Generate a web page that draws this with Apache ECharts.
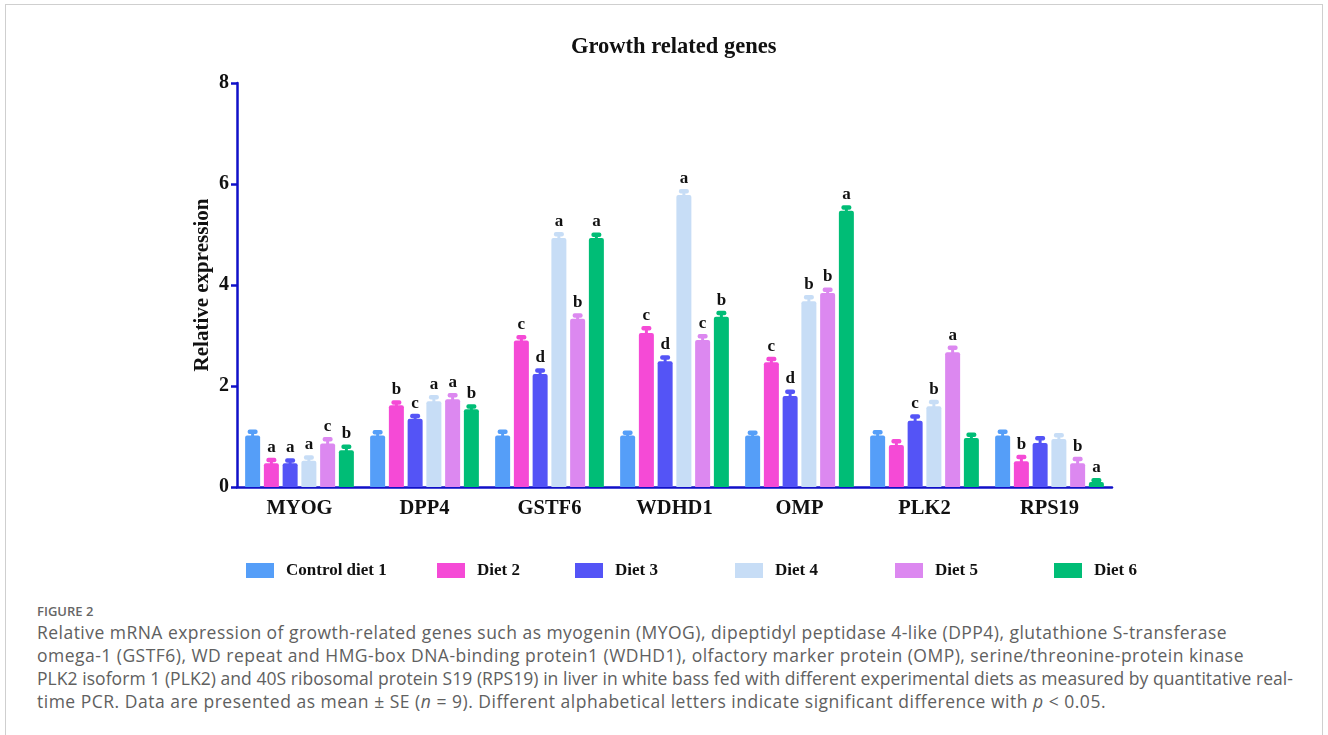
<!DOCTYPE html>
<html>
<head>
<meta charset="utf-8">
<script src="https://cdn.jsdelivr.net/npm/echarts@6/dist/echarts.min.js"></script>
<style>
  html, body { margin: 0; padding: 0; background: #fff; }
  body { width: 1328px; height: 735px; position: relative; overflow: hidden; }
  #frame { position: absolute; left: 5px; top: 4px; width: 1318px; height: 800px;
           border: 1px solid #cfcfcf; box-sizing: border-box; }
  #chart { position: absolute; left: 0; top: 0; width: 1328px; height: 600px; }
  #caption { position: absolute; left: 37px; top: 601px; color: #606060;
             font-family: 'Open Sans', 'Noto Sans', sans-serif; }
  #caption .fig { font-size: 13px; font-weight: 600; color: #666; line-height: 20px; }
  #caption .line { font-size: 17.5px; line-height: 23px; white-space: nowrap; }
  #caption .line span { display: inline-block; }
</style>
</head>
<body>
<div id="frame"></div>
<div id="chart"></div>
<div id="caption">
  <div class="fig">FIGURE 2</div>
  <div class="line" data-w="1190"><span>Relative mRNA expression of growth-related genes such as myogenin (MYOG), dipeptidyl peptidase 4-like (DPP4), glutathione S-transferase</span></div>
  <div class="line" data-w="1207"><span>omega-1 (GSTF6), WD repeat and HMG-box DNA-binding protein1 (WDHD1), olfactory marker protein (OMP), serine/threonine-protein kinase</span></div>
  <div class="line" data-w="1256"><span>PLK2 isoform 1 (PLK2) and 40S ribosomal protein S19 (RPS19) in liver in white bass fed with different experimental diets as measured by quantitative real-</span></div>
  <div class="line" data-w="1069"><span>time PCR. Data are presented as mean ± SE (<i>n</i> = 9). Different alphabetical letters indicate significant difference with <i>p</i> &lt; 0.05.</span></div>
</div>
<script>
// fit each caption line to the width it has in the figure
document.querySelectorAll('#caption .line').forEach(function (el) {
    var span = el.firstElementChild;
    var target = +el.getAttribute('data-w');
    var n = span.textContent.length;
    var w = span.getBoundingClientRect().width;
    span.style.letterSpacing = ((target - w) / n) + 'px';
});

// genes on the x axis
var genes = ['MYOG', 'DPP4', 'GSTF6', 'WDHD1', 'OMP', 'PLK2', 'RPS19'];
var diets = ['Control diet 1', 'Diet 2', 'Diet 3', 'Diet 4', 'Diet 5', 'Diet 6'];

// mean relative expression, one array per diet (order of genes)
var control = [1.02, 1.02, 1.02, 1.02, 1.02, 1.02, 1.02];
var diet2 = [0.47, 1.62, 2.90, 3.05, 2.47, 0.83, 0.51];
var diet3 = [0.47, 1.35, 2.24, 2.49, 1.80, 1.31, 0.87];
var diet4 = [0.52, 1.70, 4.93, 5.78, 3.68, 1.60, 0.95];
var diet5 = [0.86, 1.74, 3.33, 2.91, 3.84, 2.67, 0.47];
var diet6 = [0.73, 1.54, 4.93, 3.37, 5.47, 0.97, 0.10];

// standard errors
var seControl = [0.08, 0.07, 0.08, 0.06, 0.06, 0.07, 0.08];
var seDiet2 = [0.07, 0.06, 0.07, 0.10, 0.07, 0.08, 0.09];
var seDiet3 = [0.06, 0.06, 0.07, 0.08, 0.09, 0.09, 0.10];
var seDiet4 = [0.07, 0.08, 0.08, 0.08, 0.08, 0.09, 0.08];
var seDiet5 = [0.09, 0.08, 0.07, 0.08, 0.07, 0.09, 0.09];
var seDiet6 = [0.07, 0.06, 0.07, 0.08, 0.07, 0.07, 0.04];

// significance letters
var lettersControl = ['', '', '', '', '', '', ''];
var lettersDiet2 = ['a', 'b', 'c', 'c', 'c', '', 'b'];
var lettersDiet3 = ['a', 'c', 'd', 'd', 'd', 'c', ''];
var lettersDiet4 = ['a', 'a', 'a', 'a', 'b', 'b', ''];
var lettersDiet5 = ['c', 'a', 'b', 'c', 'b', 'a', 'b'];
var lettersDiet6 = ['b', 'b', 'a', 'b', 'a', '', 'a'];

var yTicks = [0, 2, 4, 6, 8];

var colors = ['#559ef8', '#f54ad6', '#5454f6', '#c7ddf6', '#dc88f0', '#00bd76'];
var axisColor = '#1010c8';
var serif = "'Liberation Serif', 'Times New Roman', serif";

var means = [control, diet2, diet3, diet4, diet5, diet6];
var ses = [seControl, seDiet2, seDiet3, seDiet4, seDiet5, seDiet6];
var letters = [lettersControl, lettersDiet2, lettersDiet3, lettersDiet4, lettersDiet5, lettersDiet6];

var barWidth = 15;
var barGapPx = 3.75;

var errData = [];
var errLetters = [];
means.forEach(function (arr, d) {
    arr.forEach(function (v, g) {
        errData.push([g, d, v, ses[d][g]]);
        errLetters.push(letters[d][g]);
    });
});

var myChart = echarts.init(document.getElementById('chart'));

var legendLeft = [246, 437, 575, 735, 895, 1054];

myChart.setOption({
    animation: false,
    color: colors,
    title: {
        text: 'Growth related genes',
        left: 571,
        top: 36,
        padding: 0,
        textStyle: { fontFamily: serif, fontWeight: 'bold', fontSize: 22.5, color: '#111' }
    },
    legend: diets.map(function (name, i) {
        return {
            data: [name],
            left: legendLeft[i],
            top: 562,
            padding: 0,
            icon: 'rect',
            itemWidth: 28,
            itemHeight: 15,
            selectedMode: false,
            textStyle: { fontFamily: serif, fontWeight: 'bold', fontSize: 17, color: '#111', padding: [0, 0, 0, 7] }
        };
    }),
    grid: { left: 237, right: 216, top: 83, bottom: 113 },
    xAxis: {
        type: 'category',
        data: genes,
        axisLine: { lineStyle: { color: axisColor, width: 2.5 } },
        axisTick: { alignWithLabel: true, length: 6, lineStyle: { color: axisColor, width: 2.5 } },
        axisLabel: { fontFamily: serif, fontWeight: 'bold', fontSize: 20.5, color: '#111', margin: 11 }
    },
    yAxis: {
        type: 'value',
        min: 0,
        max: 8,
        interval: 2,
        name: 'Relative expression',
        nameLocation: 'middle',
        nameGap: 24,
        nameMoveOverlap: false,
        nameTextStyle: { fontFamily: serif, fontWeight: 'bold', fontSize: 21, color: '#111' },
        axisLine: { show: true, lineStyle: { color: axisColor, width: 2.5 } },
        axisTick: { show: true, length: 6, lineStyle: { color: axisColor, width: 2.5 } },
        splitLine: { show: false },
        axisLabel: {
            fontFamily: serif, fontWeight: 'bold', fontSize: 20, color: '#111', margin: 8,
            formatter: function (v) { return yTicks.indexOf(v) >= 0 ? String(v) : ''; }
        }
    },
    series: means.map(function (arr, d) {
        return {
            name: diets[d],
            type: 'bar',
            data: arr,
            barWidth: barWidth,
            barGap: (barGapPx / barWidth * 100) + '%',
            itemStyle: { color: colors[d], borderRadius: [2, 2, 0, 0] }
        };
    }).concat([{
        type: 'custom',
        data: errData,
        encode: { x: 0, y: 2 },
        z: 3,
        renderItem: function (params, api) {
            var g = api.value(0), d = api.value(1), v = api.value(2), e = api.value(3);
            var base = api.coord([g, v]);
            var top = api.coord([g, v + e]);
            var total = 6 * barWidth + 5 * barGapPx;
            var x = base[0] - total / 2 + barWidth / 2 + d * (barWidth + barGapPx);
            var col = colors[d];
            var children = [
                { type: 'rect', shape: { x: x - 1.5, y: top[1], width: 3, height: base[1] - top[1] + 1 }, style: { fill: col } },
                { type: 'rect', shape: { x: x - 5, y: top[1] - 2, width: 10, height: 4.5, r: 2 }, style: { fill: col } }
            ];
            var txt = errLetters[params.dataIndex];
            if (txt) {
                children.push({
                    type: 'text',
                    style: {
                        text: txt, x: x, y: top[1] - 4,
                        align: 'center', verticalAlign: 'bottom',
                        font: 'bold 17px ' + serif, fill: '#111'
                    }
                });
            }
            return { type: 'group', children: children };
        }
    }])
});
</script>
</body>
</html>
